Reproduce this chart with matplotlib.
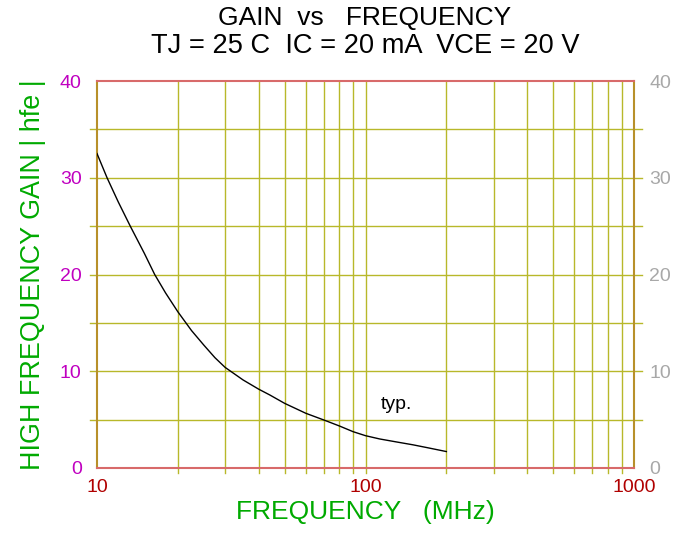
import numpy as np
import matplotlib
matplotlib.use('Agg')
from matplotlib import pyplot as plt
from matplotlib.ticker import FixedLocator, NullFormatter

plt.rcParams['font.family'] = ['Liberation Sans', 'DejaVu Sans']

# 曲线数据 (MHz, hfe)
freq = [10, 10.9, 12, 13.3, 15, 16.4, 18, 20, 22.5, 25, 27.5, 30, 35, 40, 44, 50,
        60, 70, 80, 90, 100, 113, 130, 150, 170, 200]
gain = [32.5, 30, 27.5, 25, 22.2, 20, 18.1, 16.15, 14.2, 12.7, 11.4, 10.4, 9.1, 8.15, 7.55, 6.68,
        5.65, 4.96, 4.34, 3.75, 3.34, 3.0, 2.7, 2.4, 2.1, 1.7]

y_ticks = [0, 10, 20, 30, 40]
x_ticks = [10, 100, 1000]
x_grid = [20, 30, 40, 50, 60, 70, 80, 90, 100, 200, 300, 400, 500, 600, 700, 800, 900]
y_grid = [5, 10, 15, 20, 25, 30, 35]

grid_c = '#b8b82a'

fig = plt.figure(figsize=(6.73, 5.35), dpi=100)
ax = fig.add_axes([97 / 673, 1 - 468 / 535, 537 / 673, 387 / 535])

ax.set_xscale('log')
ax.set_xlim(10, 1000)
ax.set_ylim(0, 40)

# 网格线 (稍微伸出坐标框)
for f in x_grid:
    ax.plot([f, f], [-0.55, 40], color=grid_c, lw=1, clip_on=False, zorder=1)
for g in y_grid:
    ax.plot([10 ** 0.975, 10 ** 3.03], [g, g], color=grid_c, lw=1, clip_on=False, zorder=1)

ax.plot(freq, gain, color='black', lw=1, zorder=3)
ax.text(130, 6.6, 'typ.', fontsize=14, ha='center', va='center')

for side in ['top', 'bottom']:
    ax.spines[side].set_color('#d86a6a')
    ax.spines[side].set_linewidth(1.5)
for side in ['left', 'right']:
    ax.spines[side].set_color('#b8902a')
    ax.spines[side].set_linewidth(1.5)

ax.xaxis.set_major_locator(FixedLocator(x_ticks))
ax.xaxis.set_minor_locator(FixedLocator([]))
ax.xaxis.set_minor_formatter(NullFormatter())
ax.set_xticklabels([str(t) for t in x_ticks])
ax.set_yticks(y_ticks)
ax.tick_params(axis='x', length=0, pad=8, labelsize=14, labelcolor='#b00000')
ax.tick_params(axis='y', length=0, pad=11, labelsize=14, labelcolor='#c000c0')

ax2 = ax.twinx()
ax2.set_ylim(0, 40)
ax2.set_yticks(y_ticks)
ax2.tick_params(axis='y', length=0, pad=11, labelsize=14, labelcolor='#a8a8a8')
for s in ax2.spines.values():
    s.set_visible(False)

ax.set_xlabel('FREQUENCY   (MHz)', fontsize=19, color='#00aa00', labelpad=3)
ax.set_ylabel('HIGH FREQUENCY GAIN | hfe |', fontsize=19.4, color='#00aa00', labelpad=10)

fig.text(365 / 673, 1 - 18 / 535, 'GAIN  vs   FREQUENCY', ha='center', va='center', fontsize=19)
fig.text(365 / 673, 1 - 46 / 535, 'TJ = 25 C  IC = 20 mA  VCE = 20 V', ha='center', va='center', fontsize=19.6)

plt.savefig('out.png', dpi=100)
